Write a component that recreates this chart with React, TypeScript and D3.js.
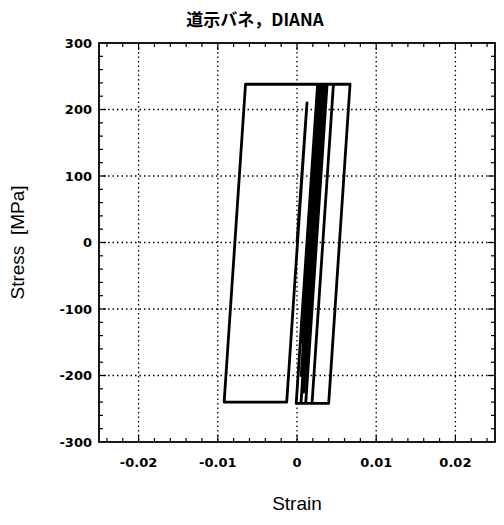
import { useEffect, useRef } from "react";
import * as d3 from "d3";

// hysteresis path vertices (strain, stress in MPa)
const strainPts = [
  0, 0.00126, -0.0013, -0.0092, -0.0065, 0.0067, 0.004, -0.0001, 0.0026,
  0.00052, 0.0027, 0.0009, 0.0028, 0.00061, 0.00285, 0.001, 0.0029,
  0.00153, 0.003, 0.00053, 0.00315, 0.00147, 0.0032, 0.00067, 0.0033,
  0.0017, 0.00335, 0.00105, 0.0034, 0.00141, 0.00345, 0.00083, 0.0035,
  0.00162, 0.0036, 0.00214, 0.00365, 0.00123, 0.0037, 0.00162, 0.0038,
  0.0046, 0.0019, 0.0005, 0.0032, 0.0038, 0.0011,
];
const stressPts = [
  0, 210, -240, -240, 238, 238, -242, -242, 238,
  -130, 238, -80, 238, -150, 238, -90, 238,
  -5, 238, -200, 238, -60, 238, -210, 238,
  -45, 238, -170, 238, -115, 238, -225, 238,
  -95, 238, -20, 238, -190, 238, -130, 238,
  238, -242, -242, 238, 238, -242,
];

const xTicks = [-0.02, -0.01, 0, 0.01, 0.02];
const yTicks = [-300, -200, -100, 0, 100, 200, 300];
const title = "道示バネ，DIANA";

export default function App() {
  const ref = useRef<SVGSVGElement | null>(null);

  useEffect(() => {
    const el = ref.current;
    if (!el) return;
    const svg = d3.select(el);
    svg.selectAll("*").remove();

    const width = 504;
    const height = 525;
    const margin = { top: 43, right: 9, bottom: 83, left: 99 };
    const x0 = margin.left;
    const x1 = width - margin.right;
    const y0 = margin.top;
    const y1 = height - margin.bottom;

    const x = d3.scaleLinear().domain([-0.025, 0.025]).range([x0, x1]);
    const y = d3.scaleLinear().domain([-300, 300]).range([y1, y0]);

    // dotted grid
    const grid = svg.append("g").attr("stroke", "#000").attr("stroke-width", 1.3).attr("stroke-dasharray", "1.5,3");
    grid
      .selectAll(".gx")
      .data(xTicks)
      .join("line")
      .attr("x1", (d) => x(d))
      .attr("x2", (d) => x(d))
      .attr("y1", y0)
      .attr("y2", y1);
    grid
      .selectAll(".gy")
      .data(yTicks.filter((d) => Math.abs(d) < 300))
      .join("line")
      .attr("x1", x0)
      .attr("x2", x1)
      .attr("y1", (d) => y(d))
      .attr("y2", (d) => y(d));

    // inward ticks on all four sides
    const xMinor = d3.range(-0.024, 0.0241, 0.002);
    const yMinor = d3.range(-280, 281, 20);
    const ticks = svg.append("g").attr("stroke", "#000").attr("stroke-width", 1.2);
    const isMajorX = (d: number) => Math.abs(Math.round(d * 100) - d * 100) < 1e-6;
    const isMajorY = (d: number) => d % 100 === 0;
    xMinor.forEach((d) => {
      const len = isMajorX(d) ? 7 : 4;
      ticks.append("line").attr("x1", x(d)).attr("x2", x(d)).attr("y1", y1).attr("y2", y1 - len);
      ticks.append("line").attr("x1", x(d)).attr("x2", x(d)).attr("y1", y0).attr("y2", y0 + len);
    });
    yMinor.forEach((d) => {
      const len = isMajorY(d) ? 7 : 4;
      ticks.append("line").attr("x1", x0).attr("x2", x0 + len).attr("y1", y(d)).attr("y2", y(d));
      ticks.append("line").attr("x1", x1).attr("x2", x1 - len).attr("y1", y(d)).attr("y2", y(d));
    });

    // frame
    svg
      .append("rect")
      .attr("x", x0)
      .attr("y", y0)
      .attr("width", x1 - x0)
      .attr("height", y1 - y0)
      .attr("fill", "none")
      .attr("stroke", "#000")
      .attr("stroke-width", 1.8);

    // hysteresis curve
    const pts = strainPts.map((s, i) => [s, stressPts[i]] as [number, number]);
    const line = d3
      .line<[number, number]>()
      .x((d) => x(d[0]))
      .y((d) => y(d[1]));
    svg
      .append("path")
      .attr("d", line(pts))
      .attr("fill", "none")
      .attr("stroke", "#000")
      .attr("stroke-width", 2.8)
      .attr("stroke-linejoin", "round");

    // tick labels
    const fmtX = (d: number) => (d === 0 ? "0" : d3.format(".2f")(d).replace("−", "-"));
    svg
      .append("g")
      .selectAll("text")
      .data(xTicks)
      .join("text")
      .attr("x", (d) => x(d))
      .attr("y", y1 + 25)
      .attr("text-anchor", "middle")
      .attr("font-family", "'DejaVu Sans', sans-serif")
      .attr("font-weight", 700)
      .attr("font-size", 13)
      .text(fmtX);
    svg
      .append("g")
      .selectAll("text")
      .data(yTicks)
      .join("text")
      .attr("x", x0 - 7)
      .attr("y", (d) => y(d))
      .attr("dy", "0.36em")
      .attr("text-anchor", "end")
      .attr("font-family", "'DejaVu Sans', sans-serif")
      .attr("font-weight", 700)
      .attr("font-size", 13)
      .text((d) => String(d));

    // axis titles
    svg
      .append("text")
      .attr("x", (x0 + x1) / 2)
      .attr("y", 510)
      .attr("text-anchor", "middle")
      .attr("font-family", "'Liberation Sans', Arial, sans-serif")
      .attr("font-size", 19)
      .text("Strain");
    svg
      .append("text")
      .attr("transform", `translate(24,${(y0 + y1) / 2}) rotate(-90)`)
      .attr("text-anchor", "middle")
      .attr("font-family", "'Liberation Sans', Arial, sans-serif")
      .attr("font-size", 19)
      .style("white-space", "pre")
      .text("Stress  [MPa]");

    svg
      .append("text")
      .attr("x", 255)
      .attr("y", 26)
      .attr("text-anchor", "middle")
      .attr("font-family", "'Noto Sans CJK JP', sans-serif")
      .attr("font-weight", 700)
      .attr("font-size", 17)
      .text(title);
  }, []);

  return (
    <svg
      ref={ref}
      width={504}
      height={525}
      style={{ position: "absolute", left: 0, top: 0, background: "#fff" }}
    />
  );
}
